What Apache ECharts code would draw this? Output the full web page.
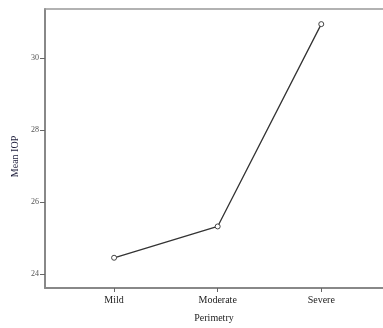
<!DOCTYPE html>
<html>
<head>
<meta charset="utf-8">
<script src="https://cdn.jsdelivr.net/npm/echarts@6/dist/echarts.min.js"></script>
<style>html,body{margin:0;padding:0;background:#fff}#c{width:383px;height:328px}</style>
</head>
<body>
<div id="c"></div>
<script>
var categories = ['Mild', 'Moderate', 'Severe'];
var meanIOP = [24.46, 25.33, 30.95];
var yTicks = [24, 26, 28, 30];

var chart = echarts.init(document.getElementById('c'), null, {renderer: 'canvas'});
var serif = '"Liberation Serif", "DejaVu Serif", serif';
var catIdx = categories.map(function (c, i) { return i; });
chart.setOption({
  animation: false,
  backgroundColor: '#fff',
  grid: {left: 45, right: 0, top: 9, bottom: 39, show: false},
  xAxis: [{
    type: 'value', min: -0.667, max: 2.596,
    name: 'Perimetry', nameLocation: 'middle', nameGap: 25,
    nameTextStyle: {fontFamily: serif, fontSize: 10, color: '#222'},
    axisLine: {show: true, onZero: false, lineStyle: {color: '#888', width: 2}},
    axisTick: {show: true, length: 4, customValues: catIdx, lineStyle: {color: '#666'}},
    axisLabel: {customValues: catIdx, margin: 7, fontFamily: serif, fontSize: 10, color: '#222',
      formatter: function (v) { return categories[Math.round(v)]; }},
    splitLine: {show: false}
  }, {
    type: 'value', position: 'top', min: 0, max: 1,
    axisLine: {show: true, onZero: false, lineStyle: {color: '#999', width: 1.5}},
    axisTick: {show: false}, axisLabel: {show: false}, splitLine: {show: false}
  }],
  yAxis: {
    type: 'value', min: 23.62, max: 31.37,
    name: 'Mean IOP', nameLocation: 'middle', nameGap: 23,
    nameTextStyle: {fontFamily: serif, fontSize: 10, color: '#1c1c3a', padding: [0, 16, 0, 0]},
    axisLine: {show: true, onZero: false, lineStyle: {color: '#888', width: 2}},
    axisTick: {show: true, length: 5, customValues: yTicks, lineStyle: {color: '#666'}},
    axisLabel: {customValues: yTicks, margin: 6, fontFamily: serif, fontSize: 8, color: '#555'},
    splitLine: {show: false}
  },
  series: [{
    type: 'line',
    xAxisIndex: 0,
    data: meanIOP.map(function (v, i) { return [catIdx[i], v]; }),
    symbol: 'circle', symbolSize: 5, showSymbol: true,
    itemStyle: {color: '#fff', borderColor: '#444', borderWidth: 1},
    lineStyle: {color: '#333', width: 1.3}
  }]
});
</script>
</body>
</html>
